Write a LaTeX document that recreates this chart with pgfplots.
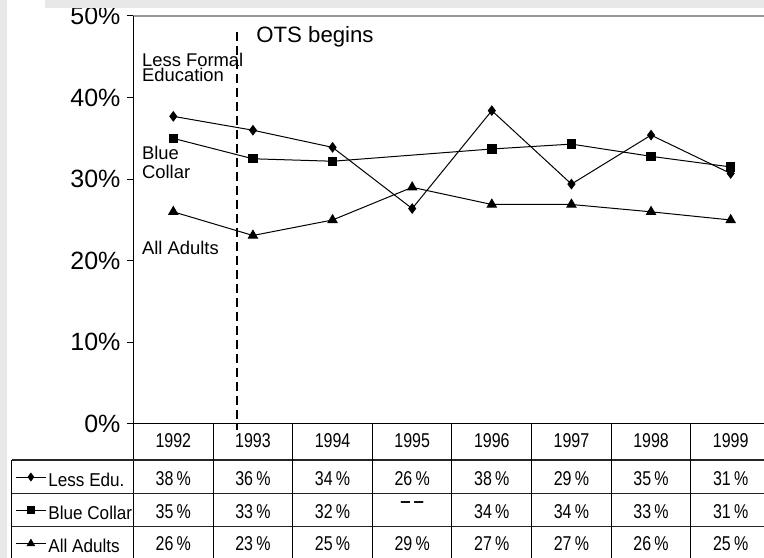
\documentclass[border=0pt]{standalone}
\usepackage{fontspec}
\setmainfont{Liberation Sans}
\newfontfamily\narrowfont[FakeStretch=0.8]{Liberation Sans}
\newfontfamily\labelfont[FakeStretch=0.92]{Liberation Sans}
\usepackage{pgfplots}
\pgfplotsset{compat=1.18}
\definecolor{bggray}{RGB}{232,232,232}
\definecolor{rulegray}{RGB}{150,150,150}

\begin{document}
\begin{tikzpicture}[lab/.style={anchor=base west, inner sep=0pt, font=\fontsize{9.2}{11}\selectfont}]
\begin{axis}[
    scale only axis,
    width=318.5pt, height=204pt,
    xmin=-0.5, xmax=7.5, ymin=0, ymax=50,
    axis line style={draw=none},
    xtick=\empty,
    ytick={0,10,...,50}, ytick pos=left,
    yticklabel={\pgfmathprintnumber{\tick}\%},
    tick align=outside, major tick length=3pt,
    ytick style={black, line width=0.5pt},
    y tick label style={font=\fontsize{12.5}{14}\selectfont,
        /pgf/number format/assume math mode=true},
    clip=false,
    legend cell align=left,
    legend image code/.code={\draw[mark repeat=2,mark phase=2,#1,
        every mark/.append style={scale=0.8}]
        plot coordinates {(0pt,0pt) (7.5pt,0pt) (15pt,0pt)};},
    legend style={at={(-0.186,-0.0882)}, anchor=north west,
        draw=none, fill=none, inner xsep=0pt, inner ysep=0pt,
        row sep=0pt, column sep=1pt,
        nodes={inner sep=0pt, text height=12.93pt, text depth=3.73pt},
        font=\labelfont\fontsize{9.3}{11}\selectfont},
    every node near coord/.append style={anchor=base, inner sep=0pt,
        font=\narrowfont\fontsize{10}{12}\selectfont},
]
% grey frame strips
\fill[bggray] (axis cs:-2.1766,-17) rectangle (axis cs:-2.0887,52.5);
\fill[bggray] (axis cs:-1.6115,50.98) rectangle (axis cs:7.5,52.5);

% plot frame and table grid
\draw[rulegray, line width=0.75pt] (axis cs:-0.5,50) -- (axis cs:7.5,50);
\draw[black, line width=0.5pt] (axis cs:-0.5,50) -- (axis cs:-0.5,-17);
\draw[black, line width=0.5pt] (axis cs:-0.5,0) -- (axis cs:7.5,0);
\draw[black!85, line width=0.6pt] (axis cs:-2.026,-4.412) -- (axis cs:7.5,-4.412);
\draw[black!85, line width=0.6pt] (axis cs:-2.026,-8.542) -- (axis cs:7.5,-8.542);
\draw[black!85, line width=0.6pt] (axis cs:-2.026,-12.586) -- (axis cs:7.5,-12.586);
\draw[black, line width=0.5pt] (axis cs:-2.026,-4.412) -- (axis cs:-2.026,-17);
\pgfplotsinvokeforeach{0.5,1.5,2.5,3.5,4.5,5.5,6.5}{
  \draw[black, line width=0.5pt] (axis cs:#1,0) -- (axis cs:#1,-17);
}

% OTS start marker
\draw[black, line width=0.9pt, dash pattern=on 4.5pt off 2.5pt]
    (axis cs:0.796,48.04) -- (axis cs:0.796,-0.735);
\node[anchor=base west, inner sep=0pt, font=\fontsize{11.1}{13}\selectfont]
    at (axis cs:1.0385,46.73) {OTS begins};

% series labels
\node[lab] at (axis cs:-0.397,43.87) {Less Formal};
\node[lab] at (axis cs:-0.397,41.95) {Education};
\node[lab] at (axis cs:-0.397,32.44) {Blue};
\node[lab] at (axis cs:-0.397,30.11) {Collar};
\node[lab] at (axis cs:-0.397,20.71) {All Adults};

% series
\addplot[black, line width=0.5pt, mark=diamond*, mark size=2.3pt] coordinates {
    (0,37.7) (1,36.0) (2,33.9) (3,26.4) (4,38.4) (5,29.4) (6,35.4) (7,30.7)};
\addplot[black, line width=0.5pt, mark=square*, mark size=2.1pt] coordinates {
    (0,35.0) (1,32.5) (2,32.2) (4,33.7) (5,34.3) (6,32.8) (7,31.5)};
\addplot[black, line width=0.5pt, mark=triangle*, mark size=2.6pt] coordinates {
    (0,26.0) (1,23.1) (2,25.0) (3,29.0) (4,26.9) (5,26.9) (6,26.0) (7,25.0)};
\legend{Less Edu., Blue Collar, All Adults}

% data table below the chart
\addplot[forget plot, draw=none, mark=none, point meta=explicit symbolic,
    nodes near coords={\pgfplotspointmeta}] coordinates {
    (0,-2.904) [1992] (1,-2.904) [1993] (2,-2.904) [1994] (3,-2.904) [1995]
    (4,-2.904) [1996] (5,-2.904) [1997] (6,-2.904) [1998] (7,-2.904) [1999]};
\addplot[forget plot, draw=none, mark=none, point meta=explicit symbolic,
    nodes near coords={\pgfplotspointmeta\,\%}] coordinates {
    (0,-7.598) [38] (1,-7.598) [36] (2,-7.598) [34] (3,-7.598) [26]
    (4,-7.598) [38] (5,-7.598) [29] (6,-7.598) [35] (7,-7.598) [31]};
\addplot[forget plot, draw=none, mark=none, point meta=explicit symbolic,
    nodes near coords={\pgfplotspointmeta\,\%}] coordinates {
    (0,-11.605) [35] (1,-11.605) [33] (2,-11.605) [32]
    (4,-11.605) [34] (5,-11.605) [34] (6,-11.605) [33] (7,-11.605) [31]};
\addplot[forget plot, draw=none, mark=none, point meta=explicit symbolic,
    nodes near coords={\pgfplotspointmeta\,\%}] coordinates {
    (0,-15.564) [26] (1,-15.564) [23] (2,-15.564) [25] (3,-15.564) [29]
    (4,-15.564) [27] (5,-15.564) [27] (6,-15.564) [26] (7,-15.564) [25]};
\node[anchor=base, inner sep=0pt, font=\bfseries\fontsize{9.3}{11}\selectfont]
    at (axis cs:3,-10.29) {–\,–};

\coordinate (bbsw) at (axis cs:-2.1766,-16.42);
\coordinate (bbne) at (axis cs:7.4186,51.96);
\end{axis}
\pgfresetboundingbox
\path[use as bounding box] (bbsw) rectangle (bbne);
\end{tikzpicture}
\end{document}
